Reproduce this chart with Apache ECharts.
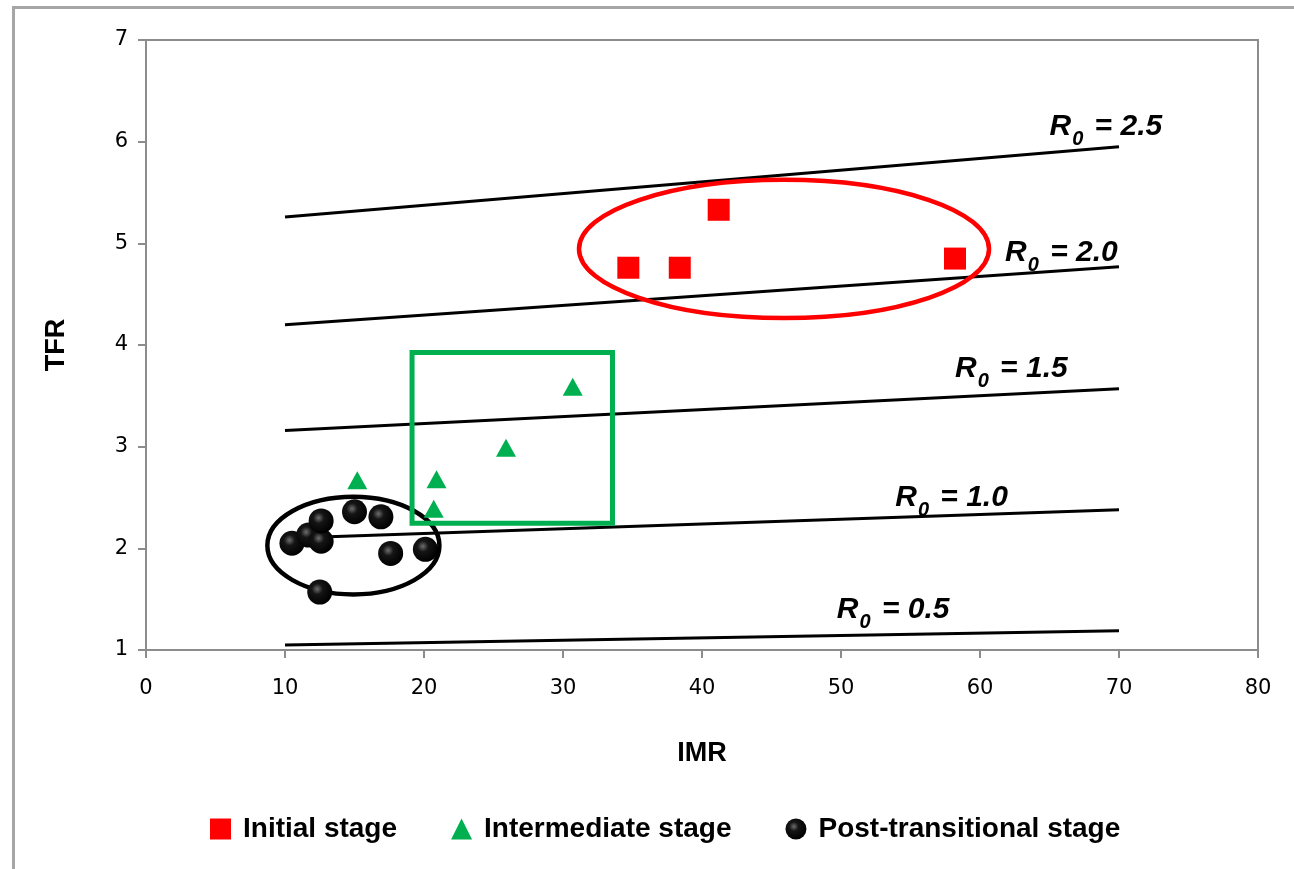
<!DOCTYPE html>
<html>
<head>
<meta charset="utf-8">
<script src="https://cdn.jsdelivr.net/npm/echarts@6/dist/echarts.min.js"></script>
<style>
html,body{margin:0;padding:0;background:#fff;}
#chart{width:1294px;height:869px;}
</style>
</head>
<body>
<div id="chart"></div>
<script>
// ---- data ----
const xTicks = [0, 10, 20, 30, 40, 50, 60, 70, 80];
const yTicks = [1, 2, 3, 4, 5, 6, 7];

const initialStage = [[34.7, 4.76], [38.4, 4.76], [41.2, 5.33], [58.2, 4.85]];
const intermediateStage = [[15.2, 2.67], [20.9, 2.68], [20.7, 2.39], [25.9, 2.99], [30.7, 3.59]];
const postTransitional = [[10.5, 2.05], [11.7, 2.13], [12.6, 2.07], [12.6, 2.27], [15.0, 2.36], [16.9, 2.31], [17.6, 1.95], [20.1, 1.99], [12.5, 1.57]];

const r0Names = ['2.5', '2.0', '1.5', '1.0', '0.5'];
const r0Lines = [
  [[10, 5.26], [70, 5.95]],
  [[10, 4.20], [70, 4.77]],
  [[10, 3.16], [70, 3.57]],
  [[10, 2.10], [70, 2.38]],
  [[10, 1.05], [70, 1.19]]
];
// anchor (left, vertical middle) of each R0 label, in data units
const r0LabelAnchors = [[65.0, 6.17], [61.8, 4.93], [58.2, 3.79], [53.9, 2.52], [49.7, 1.42]];

// grouping shapes in data units: ellipses [cx, cy, rx, ry], rectangle [x1, y1, x2, y2]
const redEllipse = [[45.9, 4.945, 14.75, 0.68]];
const blackEllipse = [[14.92, 2.027, 6.19, 0.48]];
const greenRect = [[19.14, 3.927, 33.56, 2.246]];

// ---- chart ----
const chart = echarts.init(document.getElementById('chart'));

function ellipseRenderer(color) {
  return function (params, api) {
    const c = api.coord([api.value(0), api.value(1)]);
    const s = api.size([api.value(2), api.value(3)]);
    return {
      type: 'ellipse',
      shape: { cx: c[0], cy: c[1], rx: s[0], ry: s[1] },
      style: { fill: 'none', stroke: color, lineWidth: 4.5 }
    };
  };
}
function rectRenderer(color) {
  return function (params, api) {
    const p1 = api.coord([api.value(0), api.value(1)]);
    const p2 = api.coord([api.value(2), api.value(3)]);
    return {
      type: 'rect',
      shape: { x: Math.min(p1[0], p2[0]), y: Math.min(p1[1], p2[1]), width: Math.abs(p2[0] - p1[0]), height: Math.abs(p2[1] - p1[1]) },
      style: { fill: 'none', stroke: color, lineWidth: 5 }
    };
  };
}

const labelFont = 'Liberation Sans, Arial, sans-serif';
const series = [];
r0Lines.forEach((ln, i) => {
  series.push({
    name: 'R0 = ' + r0Names[i],
    type: 'line',
    data: ln,
    symbol: 'none',
    lineStyle: { color: '#000', width: 3 },
    z: 2,
    silent: true
  });
});
series.push({
  name: 'labels',
  type: 'scatter',
  symbolSize: 0,
  data: r0LabelAnchors.map((p, i) => ({ value: p, name: r0Names[i] })),
  z: 3,
  silent: true,
  itemStyle: { opacity: 1 },
  label: {
    show: true,
    position: [0, 0],
    align: 'left',
    verticalAlign: 'middle',
    color: '#000',
    formatter: function (p) { return '{r|R}{s|0}{r| = ' + p.name + '}'; },
    rich: {
      r: { fontFamily: labelFont, fontSize: 30, fontWeight: 'bold', fontStyle: 'italic', color: '#000', lineHeight: 34, verticalAlign: 'bottom' },
      s: { fontFamily: labelFont, fontSize: 20, fontWeight: 'bold', fontStyle: 'italic', color: '#000', lineHeight: 34, verticalAlign: 'bottom', padding: [0, 3, -8, 1] }
    }
  }
});
series.push({ type: 'custom', name: 'redEllipse', renderItem: ellipseRenderer('#ff0000'), data: redEllipse, z: 4, silent: true });
series.push({ type: 'custom', name: 'blackEllipse', renderItem: ellipseRenderer('#000000'), data: blackEllipse, z: 4, silent: true });
series.push({ type: 'custom', name: 'greenRect', renderItem: rectRenderer('#00b050'), data: greenRect, z: 4, silent: true });

const circleFill = new echarts.graphic.RadialGradient(0.4, 0.38, 0.62, [
  { offset: 0, color: '#6e6e6e' },
  { offset: 0.35, color: '#151515' },
  { offset: 1, color: '#000000' }
]);

series.push({
  name: 'Initial stage', type: 'scatter', data: initialStage, symbol: 'rect', symbolSize: 22,
  itemStyle: { color: '#ff0000', opacity: 1 }, z: 5
});
series.push({
  name: 'Intermediate stage', type: 'scatter', data: intermediateStage, symbol: 'triangle', symbolSize: [20, 18],
  itemStyle: { color: '#00b050', opacity: 1 }, z: 5
});
series.push({
  name: 'Post-transitional stage', type: 'scatter', data: postTransitional, symbol: 'circle', symbolSize: 25,
  itemStyle: { color: circleFill, opacity: 1 }, z: 5
});

const tickFont = 'DejaVu Sans, Verdana, sans-serif';
const titleFont = 'Liberation Sans, Arial, sans-serif';

chart.setOption({
  animation: false,
  backgroundColor: '#ffffff',
  graphic: [{
    type: 'rect', left: 11, top: 5, shape: { width: 1300, height: 900 },
    style: { fill: 'none', stroke: '#a6a6a6', lineWidth: 3 }, silent: true
  }],
  grid: { left: 146, right: 36, top: 40, bottom: 219, show: true, borderColor: '#8c8c8c', borderWidth: 2 },
  legend: {
    data: [
      { name: 'Initial stage', icon: 'rect', itemStyle: { opacity: 1 } },
      { name: 'Intermediate stage', icon: 'triangle', itemStyle: { opacity: 1 } },
      { name: 'Post-transitional stage', icon: 'circle', itemStyle: { opacity: 1 } }
    ],
    left: 205, top: 810, itemGap: 54, itemWidth: 21, itemHeight: 21,
    textStyle: { fontFamily: titleFont, fontSize: 28, fontWeight: 'bold', color: '#000', padding: [0, 0, 0, 7] }
  },
  xAxis: {
    type: 'value', min: 0, max: 80, interval: 10,
    name: 'IMR', nameLocation: 'middle', nameGap: 90,
    nameTextStyle: { fontFamily: titleFont, fontSize: 27, fontWeight: 'bold', color: '#000' },
    axisLine: { show: true, onZero: false, lineStyle: { color: '#8c8c8c', width: 2 } },
    axisTick: { show: true, inside: false, length: 8, lineStyle: { color: '#8c8c8c', width: 2 } },
    axisLabel: { fontFamily: tickFont, fontSize: 21, color: '#000', margin: 28, formatter: v => xTicks.includes(v) ? String(v) : '' },
    splitLine: { show: false }
  },
  yAxis: {
    type: 'value', min: 1, max: 7, interval: 1,
    name: 'TFR', nameLocation: 'middle', nameGap: 76, nameRotate: 90,
    nameTextStyle: { fontFamily: titleFont, fontSize: 27, fontWeight: 'bold', color: '#000' },
    axisLine: { show: true, onZero: false, lineStyle: { color: '#8c8c8c', width: 2 } },
    axisTick: { show: true, inside: false, length: 8, lineStyle: { color: '#8c8c8c', width: 2 } },
    axisLabel: { fontFamily: tickFont, fontSize: 21, color: '#000', margin: 18, formatter: v => yTicks.includes(v) ? String(v) : '' },
    splitLine: { show: false }
  },
  series: series
});
</script>
</body>
</html>
